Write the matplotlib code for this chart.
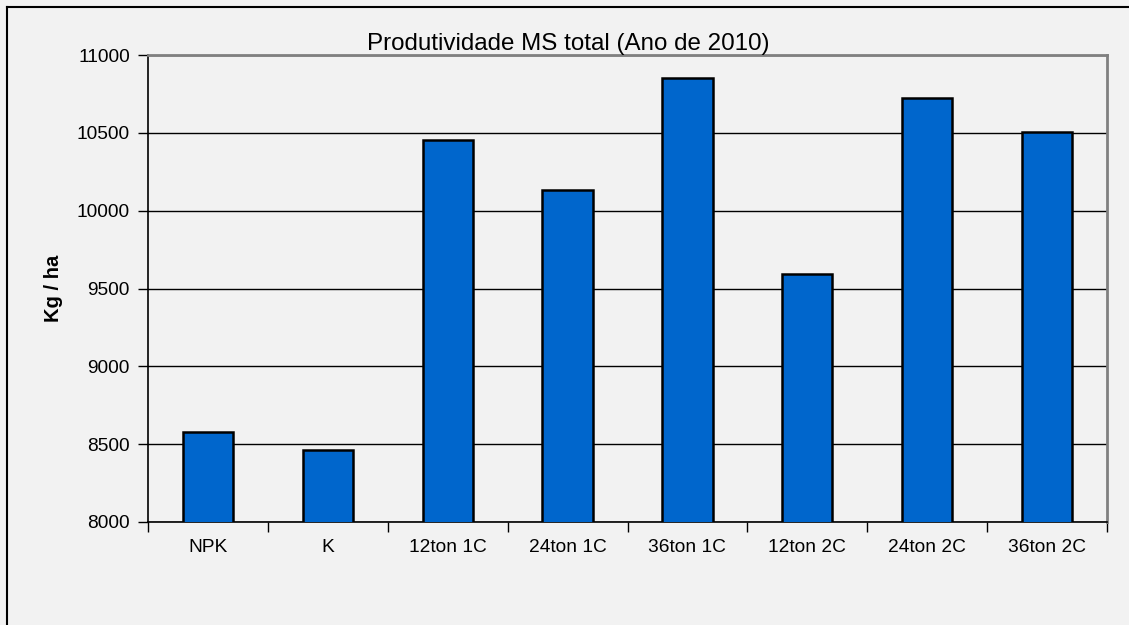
import numpy as np
import matplotlib.pyplot as plt
from matplotlib.lines import Line2D

categories = ['NPK', 'K', '12ton 1C', '24ton 1C', '36ton 1C', '12ton 2C', '24ton 2C', '36ton 2C']
values = [8580, 8465, 10455, 10130, 10850, 9595, 10725, 10505]

plt.rcParams['font.family'] = ['Liberation Sans', 'DejaVu Sans']

bg = '#f2f2f2'
fig = plt.figure(figsize=(11.29, 6.25), dpi=100, facecolor=bg)
ax = fig.add_axes([148 / 1129, 103 / 625, 959 / 1129, 467 / 625])
ax.set_facecolor(bg)

x = np.arange(len(categories))
ax.bar(x, values, width=0.42, bottom=0, color='#0066cc', edgecolor='black',
       linewidth=1.8, zorder=3)

ax.set_xlim(-0.5, len(categories) - 0.5)
ax.set_ylim(8000, 11000)
ax.set_yticks(range(8000, 11001, 500))
ax.yaxis.grid(True, color='black', linewidth=1.0, zorder=0)
ax.tick_params(axis='y', direction='out', length=7, width=1, labelsize=13.8,
               colors='black', pad=6)
ax.set_xticks(x)
ax.set_xticklabels(categories)
ax.set_xticks(np.arange(-0.5, len(categories)), minor=True)
ax.tick_params(axis='x', which='major', length=0, labelsize=13.8, pad=12)
ax.tick_params(axis='x', which='minor', direction='out', length=7, width=1)

for s in ['left', 'bottom']:
    ax.spines[s].set_color('black')
    ax.spines[s].set_linewidth(1.2)
for s in ['top', 'right']:
    ax.spines[s].set_color('#808080')
    ax.spines[s].set_linewidth(2)

ax.set_ylabel('Kg / ha', fontsize=14.5, fontweight='bold', labelpad=10)

fig.text(568 / 1129, 1 - 44 / 625, 'Produtividade MS total (Ano de 2010)',
         ha='center', va='center', fontsize=17.4)

# outer chart border
fig.add_artist(Line2D([7 / 1129, 7 / 1129], [0, 1 - 7 / 625], color='black',
                      linewidth=1.5, transform=fig.transFigure))
fig.add_artist(Line2D([7 / 1129, 1], [1 - 7 / 625, 1 - 7 / 625], color='black',
                      linewidth=1.5, transform=fig.transFigure))

fig.savefig('out.png', dpi=100, facecolor=bg)
